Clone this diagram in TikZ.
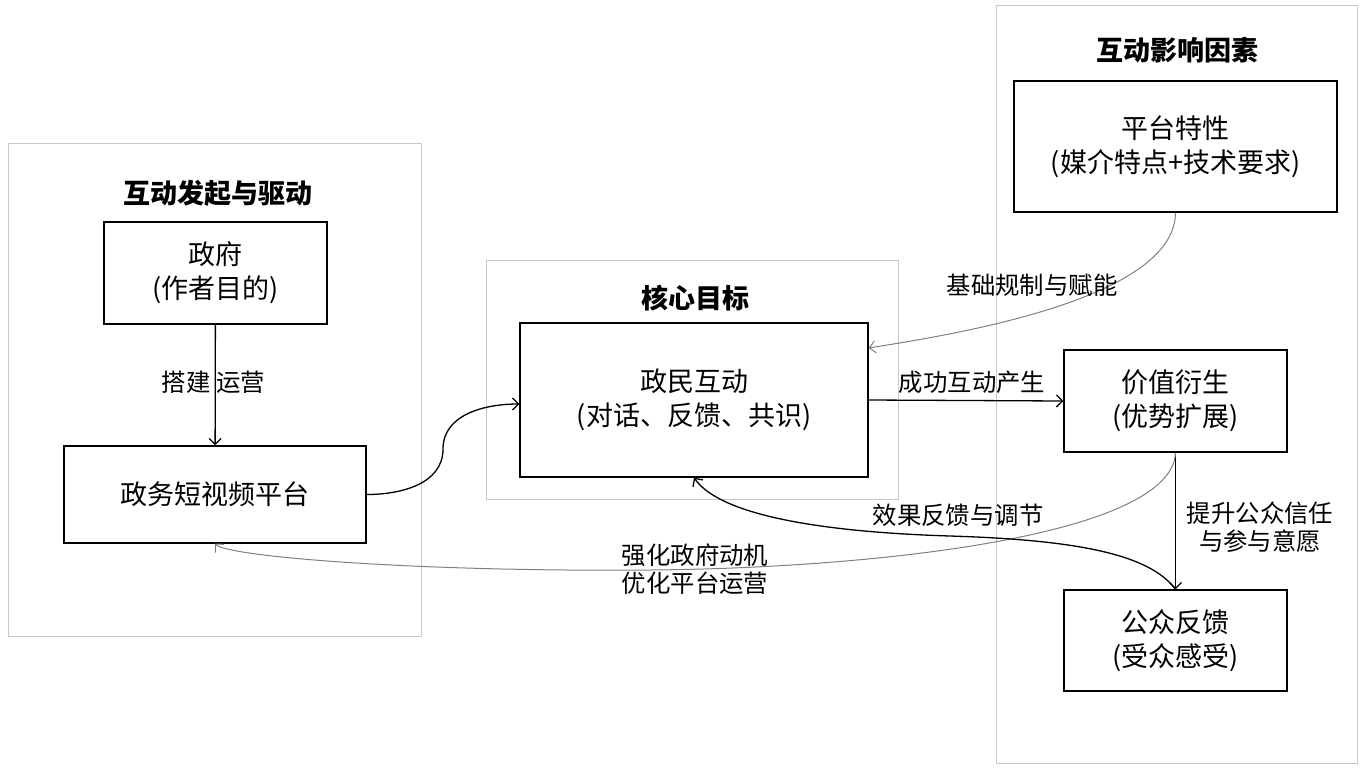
\documentclass[tikz,border=0pt]{standalone}
\usepackage{fontspec}
\setmainfont{Noto Sans CJK SC}
\usetikzlibrary{arrows.meta}
\definecolor{grpgray}{HTML}{C8C8C8}
\definecolor{edgegray}{HTML}{808080}
\begin{document}
\begin{tikzpicture}[x=1pt,y=-1pt,
  grp/.style={draw=grpgray, line width=1pt, inner sep=0pt},
  box/.style={draw=black, line width=1.3pt, fill=white, inner sep=0pt, align=center,
    font={\fontsize{27}{34}\selectfont}},
  ttl/.style={inner sep=0pt, font={\fontsize{27}{32}\selectfont\bfseries}},
  lbl/.style={inner sep=0pt, align=center, font={\fontsize{24.4}{28.5}\selectfont}},
  barb/.style={-{Straight Barb[length=6pt,width=12pt]}},
  blk/.style={draw=black, line width=1.3pt, barb},
  gry/.style={draw=edgegray, line width=1pt, barb}]
\useasboundingbox (0,0) rectangle (1367,771);
% groups
\node[grp, minimum width=413pt, minimum height=493pt] (g1) at (214.5,389.5) {};
\node[grp, minimum width=412pt, minimum height=239pt] (g2) at (692,379.5) {};
\node[grp, minimum width=361pt, minimum height=758pt] (g3) at (1176.5,384) {};
\node[ttl] (t1) at (218,193) {互动发起与驱动};
\node[ttl] (t2) at (695,298) {核心目标};
\node[ttl] (t3) at (1177,50) {互动影响因素};
% boxes
\node[box, minimum width=223pt, minimum height=102pt] (zf) at (215.5,273) {政府\\(作者目的)};
\node[box, minimum width=302pt, minimum height=97pt] (pt) at (215,494.5) {政务短视频平台};
\node[box, minimum width=348pt, minimum height=154pt] (zm) at (694,400) {政民互动\\(对话、反馈、共识)};
\node[box, minimum width=323pt, minimum height=131pt] (tx) at (1175.5,146.5) {平台特性\\(媒介特点+技术要求)};
\node[box, minimum width=223pt, minimum height=102pt] (jz) at (1175.5,401) {价值衍生\\(优势扩展)};
\node[box, minimum width=223pt, minimum height=101pt] (gz) at (1175.5,640.5) {公众反馈\\(受众感受)};
% waypoints
\coordinate (m1) at (443,449);
\coordinate (m2) at (650,570);
\coordinate (m3) at (950,536);
% edges
\draw[blk] (zf) -- (pt);
\node[lbl] (l1) at (213.5,382) {搭建 运营};
\draw[blk] (pt.east) to[out=0,in=-90] (m1) to[out=90,in=180] ([yshift=-4pt]zm.west);
\draw[gry] (tx.south) .. controls (1175,300) and (950,335) .. ([yshift=52pt]zm.east);
\node[lbl] (l2) at (1032,285) {基础规制与赋能};
\draw[blk] (zm.east) -- (jz.west);
\node[lbl] (l3) at (972,382) {成功互动产生};
\draw[blk] (jz.south) -- (gz.north);
\node[lbl] (l4) at (1260,527) {提升公众信任\\与参与意愿};
\draw[gry] (jz.south) .. controls (1172,535) and (880,568) .. (m2) .. controls (420,572) and (228,557) .. (pt.south);
\node[lbl] (l5) at (695,569) {强化政府动机\\优化平台运营};
\draw[blk] (gz.north) .. controls (1150,555) and (1080,540) .. (m3) .. controls (820,532) and (720,515) .. (zm.south);
\node[lbl] (l6) at (958,515) {效果反馈与调节};
\end{tikzpicture}
\end{document}
